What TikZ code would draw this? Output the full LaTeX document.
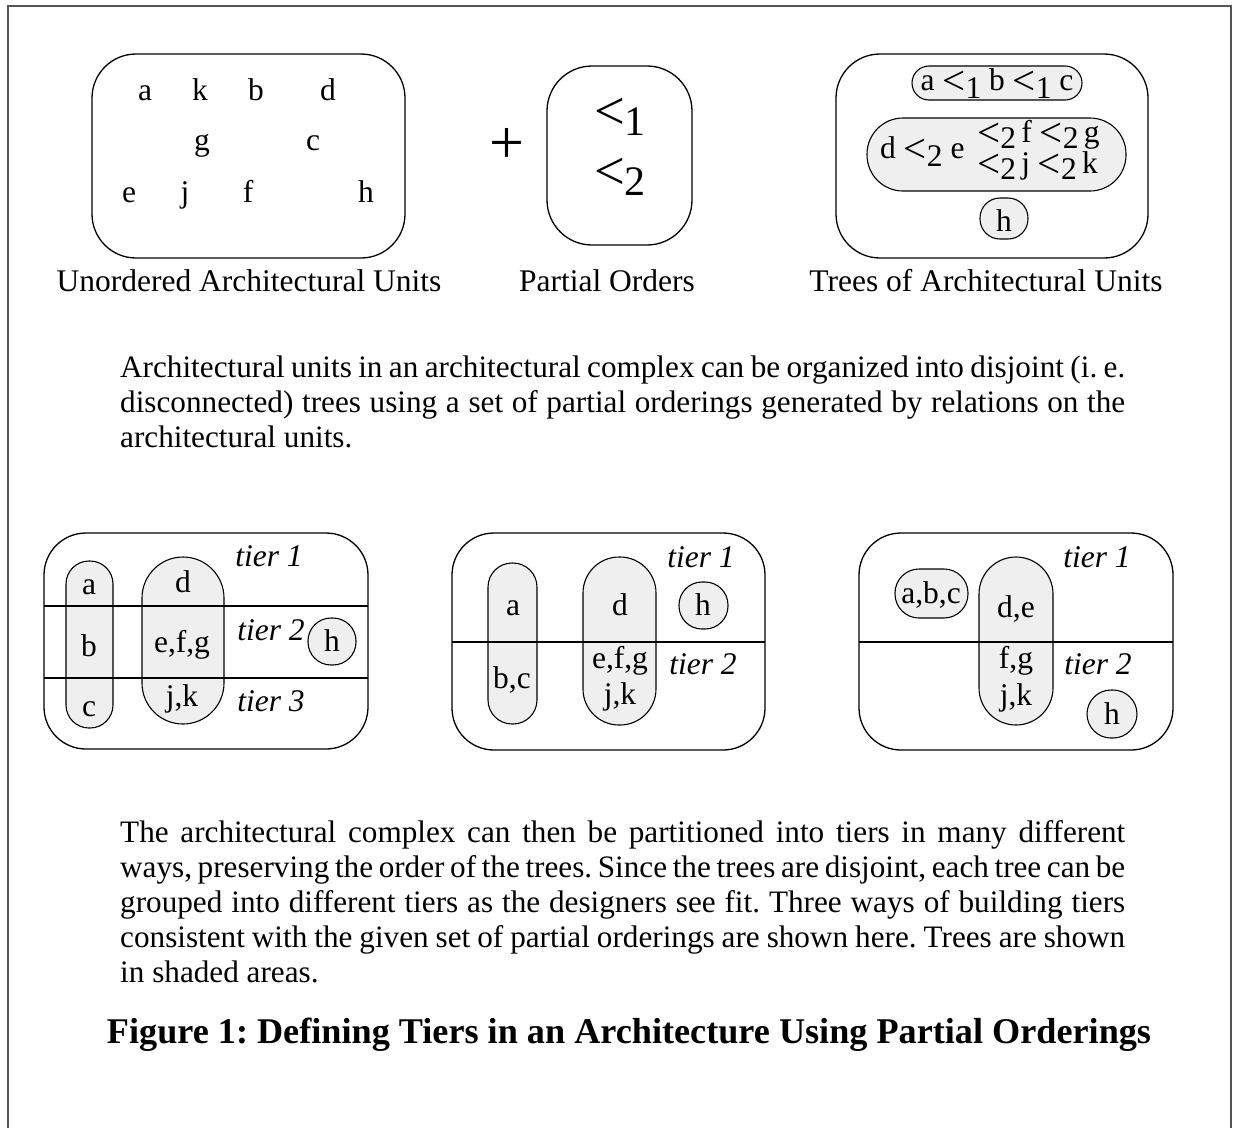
\documentclass[tikz,border=0pt]{standalone}
\usepackage{fontspec}
\setmainfont{Liberation Serif}
\frenchspacing
\definecolor{treefill}{HTML}{EFEFEF}
\definecolor{framegray}{HTML}{555555}
\newcommand\bodyfont{\fontsize{31.5}{35}\selectfont}
\newcommand\parfont{\fontsize{31.2}{35}\selectfont}
\newcommand\bigfont{\fontsize{42}{46}\selectfont}
\newcommand\titlefont{\fontsize{36.2}{40}\selectfont\bfseries}
% "less than" sign with a lowered, full-size index
\newcommand\ltsign{\raisebox{-0.14em}{\scalebox{1.3}{<}}}
\newcommand\ltsub[1]{\ltsign\raisebox{-0.28em}{#1}}
\newcommand\ltsubtight[1]{\ltsign\raisebox{-0.2em}{#1}}
\tikzset{
  unitbox/.style={draw, line width=1.3pt},
  treebox/.style={draw, fill=treefill, line width=1.1pt},
  tierline/.style={line width=2pt},
  lbl/.style={anchor=base, inner sep=0pt, font=\bodyfont},
  lblw/.style={lbl, anchor=base west},
  tierlbl/.style={lbl, font=\bodyfont\itshape},
  textline/.style={anchor=base west, inner sep=0pt, font=\parfont},
}
\begin{document}
\begin{tikzpicture}[x=1pt, y=-1pt]
\useasboundingbox (0,0) rectangle (1233,1128);

% outer frame (open at the bottom)
\draw[framegray, line width=2.4pt] (8,1128) -- (8,6) -- (1231,6) -- (1231,1128);

% ---------- top row ----------
% unordered architectural units
\draw[unitbox, rounded corners=44] (92,54) rectangle (405,258);
\node[lbl] (ua) at (145,100) {a};
\node[lbl] (uk) at (200,100) {k};
\node[lbl] (ub) at (256,100) {b};
\node[lbl] (ud) at (328,100) {d};
\node[lbl] (ug) at (202,150) {g};
\node[lbl] (uc) at (313,150) {c};
\node[lbl] (ue) at (129,202) {e};
\node[lbl] (uj) at (185,202) {j};
\node[lbl] (uf) at (248,202) {f};
\node[lbl] (uh) at (366,202) {h};
\node[lbl] (capunits) at (249,291) {Unordered Architectural Units};

\node[anchor=center, inner sep=0pt, font=\fontsize{62}{64}\selectfont] (plus) at (507,146) {+};

% partial orders
\draw[unitbox, rounded corners=45] (547,66) rectangle (692,245);
\node[anchor=base, inner sep=0pt, font=\bigfont] (po1) at (620,124) {\ltsub{1}};
\node[anchor=base, inner sep=0pt, font=\bigfont] (po2) at (620,184) {\ltsub{2}};
\node[lbl] (capord) at (607,291) {Partial Orders};

% trees of architectural units
\draw[unitbox, rounded corners=44] (836,54) rectangle (1148,258);
\draw[treebox, rounded corners=17] (912,66) rectangle (1082,100);
\draw[treebox, rounded corners=36] (867,118) rectangle (1126,191);
\draw[treebox, rounded corners=20] (980,198) rectangle (1028,239);
\node[lbl] (tabc) at (997,90) {a \ltsub{1} b \ltsub{1} c};
\node[lblw] (tde) at (880,158) {d \ltsub{2} e};
\node[lblw] (tfg) at (977,142) {\ltsubtight{2}\,f \ltsubtight{2}\,g};
\node[lblw] (tjk) at (977,173) {\ltsubtight{2}\,j \ltsubtight{2}\,k};
\node[lbl] (th) at (1004,231) {h};
\node[lbl] (captrees) at (986,291) {Trees of Architectural Units};

% first paragraph
\node[textline] (p1a) at (120,377) {\makebox[1005pt][s]{Architectural units in an architectural complex can be organized into disjoint (i. e.}};
\node[textline] (p1b) at (120,412) {\makebox[1005pt][s]{disconnected) trees using a set of partial orderings generated by relations on the}};
\node[textline] (p1c) at (120,447) {architectural units.};

% ---------- bottom row ----------
% three tiers
\draw[unitbox, rounded corners=42] (44,533) rectangle (368,749);
\draw[treebox, rounded corners=23] (66,561) rectangle (113,728);
\draw[treebox, rounded corners=41] (142,557) rectangle (224,724);
\draw[treebox, rounded corners=23] (308,618) rectangle (356,665);
\draw[tierline] (44,606) -- (368,606);
\draw[tierline] (44,678) -- (368,678);
\node[lbl] (la) at (89,594) {a};
\node[lbl] (lb) at (89,656) {b};
\node[lbl] (lc) at (89,716) {c};
\node[lbl] (ld) at (183,592) {d};
\node[lbl] (lefg) at (182,652) {e,f,g};
\node[lbl] (ljk) at (182,706) {j,k};
\node[lbl] (lh) at (332,651) {h};
\node[tierlbl] (lt1) at (269,566) {tier 1};
\node[tierlbl] (lt2) at (271,640) {tier 2};
\node[tierlbl] (lt3) at (271,711) {tier 3};

% two tiers, h on top
\draw[unitbox, rounded corners=42] (452,533) rectangle (765,750);
\draw[treebox, rounded corners=24] (488,563) rectangle (537,724);
\draw[treebox, rounded corners=36] (583,557) rectangle (656,725);
\draw[treebox, rounded corners=23] (679,582) rectangle (728,629);
\draw[tierline] (452,642) -- (765,642);
\node[lbl] (ma) at (513,615) {a};
\node[lbl] (mbc) at (512,688) {b,c};
\node[lbl] (md) at (620,615) {d};
\node[lbl] (mefg) at (620,668) {e,f,g};
\node[lbl] (mjk) at (620,704) {j,k};
\node[lbl] (mh) at (703,615) {h};
\node[tierlbl] (mt1) at (701,567) {tier 1};
\node[tierlbl] (mt2) at (703,674) {tier 2};

% two tiers, h below
\draw[unitbox, rounded corners=42] (859,533) rectangle (1173,750);
\draw[treebox, rounded corners=24] (895,569) rectangle (968,618);
\draw[treebox, rounded corners=37] (979,557) rectangle (1053,725);
\draw[treebox, rounded corners=24] (1087,690) rectangle (1137,738);
\draw[tierline] (859,642) -- (1173,642);
\node[lbl] (ra) at (931,603) {a,b,c};
\node[lbl] (rde) at (1016,617) {d,e};
\node[lbl] (rfg) at (1016,668) {f,g};
\node[lbl] (rjk) at (1016,705) {j,k};
\node[lbl] (rh) at (1112,724) {h};
\node[tierlbl] (rt1) at (1097,567) {tier 1};
\node[tierlbl] (rt2) at (1098,674) {tier 2};

% second paragraph
\node[textline] (p2a) at (120,842) {\makebox[1005pt][s]{The architectural complex can then be partitioned into tiers in many different}};
\node[textline] (p2b) at (120,877) {\makebox[1005pt][s]{ways, preserving the order of the trees. Since the trees are disjoint, each tree can be}};
\node[textline] (p2c) at (120,912) {\makebox[1005pt][s]{grouped into different tiers as the designers see fit. Three ways of building tiers}};
\node[textline] (p2d) at (120,947) {\makebox[1005pt][s]{consistent with the given set of partial orderings are shown here. Trees are shown}};
\node[textline] (p2e) at (120,982) {in shaded areas.};

% caption
\node[anchor=base, inner sep=0pt, font=\titlefont] (title) at (629,1043) {Figure 1: Defining Tiers in an Architecture Using Partial Orderings};
\end{tikzpicture}
\end{document}
